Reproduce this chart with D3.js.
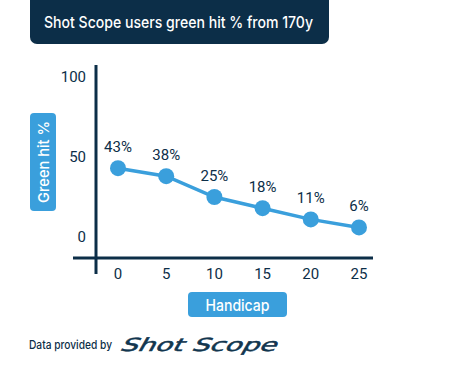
<!DOCTYPE html>
<html><head><meta charset="utf-8">
<script src="https://cdn.jsdelivr.net/npm/d3@7"></script>
<style>html,body{margin:0;padding:0;background:#fff;}svg{display:block;}</style>
</head><body>
<script>
const titleText = "Shot Scope users green hit % from 170y";
const handicaps = [0, 5, 10, 15, 20, 25];
const greenHit = [43, 38, 25, 18, 11, 6];
const yTicks = [0, 50, 100];
const yTitle = "Green hit %";
const xTitle = "Handicap";
const footerText = "Data provided by";
const logoText = "Shot Scope";

const W = 474, H = 371;
const navy = "#0c2e48", blue = "#3a9fdc";
const svg = d3.select("body").append("svg").attr("width", W).attr("height", H);
const font = "Roboto, 'Noto Sans', sans-serif";
const medFont = "Inter, Roboto, sans-serif";

// title
svg.append("rect").attr("x", 30).attr("y", -8).attr("width", 299).attr("height", 52).attr("rx", 7).attr("fill", navy);
svg.append("text").attr("x", 44).attr("y", 22).attr("dominant-baseline", "central")
  .attr("fill", "#fff").attr("font-family", medFont).attr("font-weight", 500).attr("font-size", 16)
  .attr("textLength", 269).attr("lengthAdjust", "spacingAndGlyphs").text(titleText);

const x = d3.scaleLinear().domain([0, 25]).range([118, 359]);
const y = d3.scaleLinear().domain([0, 100]).range([237, 77]);

// axes lines
svg.append("line").attr("x1", 96).attr("x2", 96).attr("y1", 65).attr("y2", 274).attr("stroke", navy).attr("stroke-width", 3);
svg.append("line").attr("x1", 73).attr("x2", 373).attr("y1", 258).attr("y2", 258).attr("stroke", navy).attr("stroke-width", 3);

// y tick labels
svg.selectAll(".yt").data(yTicks).join("text").attr("x", 86).attr("y", d => y(d))
  .attr("text-anchor", "end").attr("dominant-baseline", "central").attr("fill", navy)
  .attr("font-family", font).attr("font-size", 15).text(d => d);

// x tick labels
svg.selectAll(".xt").data(handicaps).join("text").attr("x", d => x(d)).attr("y", 274)
  .attr("text-anchor", "middle").attr("dominant-baseline", "central").attr("fill", navy)
  .attr("font-family", font).attr("font-size", 15).text(d => d);

const pts = handicaps.map((h, i) => ({h, v: greenHit[i]}));
svg.append("path").datum(pts).attr("fill", "none").attr("stroke", blue).attr("stroke-width", 3.5)
  .attr("d", d3.line().x(d => x(d.h)).y(d => y(d.v)));
svg.selectAll(".pt").data(pts).join("circle").attr("cx", d => x(d.h)).attr("cy", d => y(d.v)).attr("r", 8).attr("fill", blue);
svg.selectAll(".lb").data(pts).join("text").attr("x", d => x(d.h)).attr("y", d => y(d.v) - 21)
  .attr("text-anchor", "middle").attr("dominant-baseline", "central").attr("fill", navy)
  .attr("font-family", font).attr("font-size", 15).text(d => d.v + "%");

// y title
svg.append("rect").attr("x", 30).attr("y", 113).attr("width", 26).attr("height", 98).attr("rx", 4).attr("fill", blue);
svg.append("text").attr("transform", "translate(43,162) rotate(-90)").attr("text-anchor", "middle").attr("dominant-baseline", "central")
  .attr("fill", "#fff").attr("font-family", medFont).attr("font-weight", 500).attr("font-size", 15)
  .attr("textLength", 82).attr("lengthAdjust", "spacingAndGlyphs").text(yTitle);

// x title
svg.append("rect").attr("x", 188).attr("y", 292).attr("width", 99).attr("height", 25).attr("rx", 4).attr("fill", blue);
svg.append("text").attr("x", 237.5).attr("y", 304.5).attr("text-anchor", "middle").attr("dominant-baseline", "central")
  .attr("fill", "#fff").attr("font-family", medFont).attr("font-weight", 500).attr("font-size", 16)
  .attr("textLength", 64).attr("lengthAdjust", "spacingAndGlyphs").text(xTitle);

// footer
svg.append("text").attr("x", 29).attr("y", 344).attr("dominant-baseline", "central").attr("fill", navy)
  .attr("font-family", medFont).attr("font-weight", 500).attr("font-size", 12)
  .attr("textLength", 83).attr("lengthAdjust", "spacingAndGlyphs").text(footerText);
svg.append("text").attr("transform", "translate(119,351) skewX(-30) scale(1.5,1)")
  .attr("fill", "#12364f").attr("stroke", "#12364f").attr("stroke-width", 0.5)
  .attr("font-family", "'DejaVu Sans', sans-serif").attr("font-weight", 400)
  .attr("font-size", 18).attr("textLength", 104).attr("lengthAdjust", "spacingAndGlyphs").text(logoText);
</script>
</body></html>
